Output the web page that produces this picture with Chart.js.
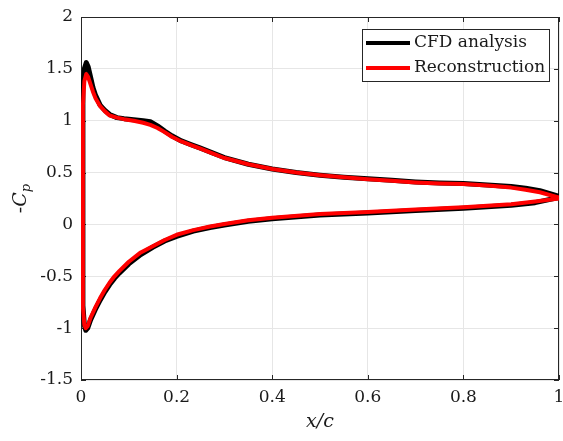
<!DOCTYPE html>
<html>
<head>
<meta charset="utf-8">
<script src="https://cdn.jsdelivr.net/npm/chart.js@4/dist/chart.umd.min.js"></script>
<style>
    html, body { margin: 0; padding: 0; background: #ffffff; }
    #wrap { width: 563px; height: 441px; }
</style>
</head>
<body>
<div id="wrap"><canvas id="cpChart" width="563" height="441"></canvas></div>
<script>
// ----------------------------------------
// Pressure distribution data (-Cp vs x/c)
// ----------------------------------------

// suction side, leading edge -> trailing edge
const upperX = [0.004, 0.007, 0.011, 0.015, 0.02, 0.025, 0.03, 0.04, 0.05, 0.06, 0.075, 0.09, 0.11, 0.13, 0.145, 0.16, 0.175, 0.19, 0.21, 0.23, 0.25, 0.275, 0.3, 0.35, 0.4, 0.45, 0.5, 0.55, 0.6, 0.65, 0.7, 0.75, 0.8, 0.85, 0.9, 0.93, 0.96, 1.0];
const upperCfd = [1.30, 1.50, 1.56, 1.52, 1.42, 1.32, 1.25, 1.15, 1.10, 1.06, 1.03, 1.02, 1.01, 1.00, 0.99, 0.95, 0.90, 0.855, 0.805, 0.77, 0.735, 0.69, 0.645, 0.58, 0.535, 0.50, 0.475, 0.455, 0.44, 0.425, 0.41, 0.40, 0.395, 0.38, 0.365, 0.35, 0.325, 0.27];
const upperRec = [1.15, 1.38, 1.45, 1.42, 1.35, 1.28, 1.22, 1.14, 1.09, 1.05, 1.03, 1.015, 1.00, 0.98, 0.96, 0.93, 0.89, 0.845, 0.80, 0.765, 0.73, 0.685, 0.64, 0.58, 0.535, 0.50, 0.475, 0.455, 0.435, 0.42, 0.405, 0.395, 0.39, 0.375, 0.355, 0.335, 0.31, 0.26];

// pressure side, leading edge -> trailing edge
const lowerX = [0.004, 0.007, 0.010, 0.014, 0.02, 0.03, 0.04, 0.05, 0.06, 0.07, 0.08, 0.1, 0.125, 0.15, 0.175, 0.2, 0.235, 0.27, 0.3, 0.35, 0.4, 0.5, 0.6, 0.7, 0.8, 0.9, 0.95, 1.0];
const lowerCfd = [-0.78, -0.97, -1.02, -1.00, -0.92, -0.82, -0.73, -0.65, -0.58, -0.52, -0.47, -0.38, -0.29, -0.22, -0.16, -0.115, -0.065, -0.03, -0.005, 0.03, 0.055, 0.09, 0.11, 0.135, 0.155, 0.185, 0.21, 0.26];
const lowerRec = [-0.80, -0.97, -1.00, -0.98, -0.90, -0.80, -0.71, -0.63, -0.56, -0.50, -0.45, -0.36, -0.27, -0.21, -0.15, -0.10, -0.055, -0.02, 0.005, 0.04, 0.065, 0.10, 0.12, 0.145, 0.165, 0.195, 0.22, 0.25];

const xTicks = [0, 0.2, 0.4, 0.6, 0.8, 1];
const yTicks = [-1.5, -1, -0.5, 0, 0.5, 1, 1.5, 2];

const seriesLabels = ["CFD analysis", "Reconstruction"];

// closed loop: trailing edge along the suction side to the nose, back along the pressure side
function buildLoop(ux, uy, lx, ly) {
    const pts = [];
    for (let i = ux.length - 1; i >= 0; i--) pts.push({ x: ux[i], y: uy[i] });
    for (let i = 0; i < lx.length; i++) pts.push({ x: lx[i], y: ly[i] });
    return pts;
}

const AXIS_COLOR = "#262626";
const SERIF = "'DejaVu Serif', serif";

// box frame plus inward tick marks on all four sides
const frameTicks = {
    id: "frameTicks",
    beforeDatasetsDraw(chart) {
        const { ctx, chartArea: a, scales } = chart;
        ctx.save();
        ctx.strokeStyle = AXIS_COLOR;
        ctx.lineWidth = 1;
        ctx.strokeRect(a.left + 0.5, a.top + 0.5, a.right - a.left - 1, a.bottom - a.top - 1);
        const len = 5;
        ctx.beginPath();
        xTicks.forEach((v) => {
            const px = Math.round(scales.x.getPixelForValue(v)) + 0.5;
            ctx.moveTo(px, a.bottom); ctx.lineTo(px, a.bottom - len);
            ctx.moveTo(px, a.top); ctx.lineTo(px, a.top + len);
        });
        yTicks.forEach((v) => {
            const py = Math.round(scales.y.getPixelForValue(v)) + 0.5;
            ctx.moveTo(a.left, py); ctx.lineTo(a.left + len, py);
            ctx.moveTo(a.right, py); ctx.lineTo(a.right - len, py);
        });
        ctx.stroke();
        ctx.restore();
    },
    afterDraw(chart) {
        const { ctx, chartArea: a } = chart;
        ctx.save();
        ctx.fillStyle = "#1a1a1a";

        // x axis title
        ctx.font = "italic 19px " + SERIF;
        ctx.textAlign = "center";
        ctx.textBaseline = "middle";
        ctx.fillText("x/c", (a.left + a.right) / 2, 422);

        // y axis title: -C with subscript p
        ctx.translate(19, (a.top + a.bottom) / 2);
        ctx.rotate(-Math.PI / 2);
        ctx.textAlign = "left";
        ctx.textBaseline = "alphabetic";
        ctx.font = "19px " + SERIF;
        const dash = "-";
        const wDash = ctx.measureText(dash).width;
        ctx.font = "italic 19px " + SERIF;
        const wC = ctx.measureText("C").width;
        ctx.font = "italic 13px " + SERIF;
        const wP = ctx.measureText("p").width;
        let x0 = -(wDash + wC + wP) / 2;
        ctx.font = "19px " + SERIF;
        ctx.fillText(dash, x0, 7);
        x0 += wDash;
        ctx.font = "italic 19px " + SERIF;
        ctx.fillText("C", x0, 7);
        x0 += wC;
        ctx.font = "italic 13px " + SERIF;
        ctx.fillText("p", x0, 11);
        ctx.restore();

        // legend box
        ctx.save();
        const box = { left: 362, top: 29, right: 549, bottom: 81 };
        ctx.fillStyle = "#ffffff";
        ctx.fillRect(box.left, box.top, box.right - box.left, box.bottom - box.top);
        ctx.strokeStyle = AXIS_COLOR;
        ctx.lineWidth = 1;
        ctx.strokeRect(box.left + 0.5, box.top + 0.5, box.right - box.left, box.bottom - box.top);
        const rows = [43, 68];
        chart.data.datasets.forEach((ds, i) => {
            ctx.strokeStyle = ds.borderColor;
            ctx.lineWidth = 4;
            ctx.beginPath();
            ctx.moveTo(366, rows[i]);
            ctx.lineTo(410, rows[i]);
            ctx.stroke();
            ctx.fillStyle = "#1a1a1a";
            ctx.font = "17px " + SERIF;
            ctx.textAlign = "left";
            ctx.textBaseline = "middle";
            ctx.fillText(ds.label, 414, rows[i]);
        });
        ctx.restore();
    }
};

const canvas = document.getElementById("cpChart");

new Chart(canvas, {
    type: "scatter",
    data: {
        datasets: [
            {
                label: seriesLabels[0],
                data: buildLoop(upperX, upperCfd, lowerX, lowerCfd),
                showLine: true,
                borderColor: "#000000",
                borderWidth: 5,
                pointRadius: 0,
                tension: 0,
                borderJoinStyle: "round",
                borderCapStyle: "round",
                order: 2
            },
            {
                label: seriesLabels[1],
                data: buildLoop(upperX, upperRec, lowerX, lowerRec),
                showLine: true,
                borderColor: "#ff0000",
                borderWidth: 4,
                pointRadius: 0,
                tension: 0,
                borderJoinStyle: "round",
                borderCapStyle: "round",
                order: 1
            }
        ]
    },
    options: {
        responsive: false,
        animation: false,
        layout: { padding: { top: 17, right: 4, left: 0, bottom: 0 } },
        plugins: {
            legend: { display: false },
            tooltip: { enabled: false }
        },
        scales: {
            x: {
                type: "linear",
                min: 0,
                max: 1,
                afterBuildTicks: (axis) => { axis.ticks = xTicks.map((v) => ({ value: v })); },
                afterFit: (axis) => {
                    axis.height = 61;
                    axis.paddingLeft = 0;
                    axis.paddingRight = 0;
                },
                grid: { color: "#e6e6e6", drawTicks: false },
                border: { display: false },
                ticks: {
                    padding: 7,
                    color: "#1a1a1a",
                    font: { family: SERIF, size: 17 },
                    callback: (v) => String(v)
                }
            },
            y: {
                type: "linear",
                min: -1.5,
                max: 2,
                afterBuildTicks: (axis) => { axis.ticks = yTicks.map((v) => ({ value: v })); },
                afterFit: (axis) => {
                    axis.width = 81;
                    axis.paddingTop = 0;
                    axis.paddingBottom = 0;
                },
                grid: { color: "#e6e6e6", drawTicks: false },
                border: { display: false },
                ticks: {
                    padding: 8,
                    color: "#1a1a1a",
                    font: { family: SERIF, size: 17 },
                    callback: (v) => String(v)
                }
            }
        }
    },
    plugins: [frameTicks]
});
</script>
</body>
</html>
